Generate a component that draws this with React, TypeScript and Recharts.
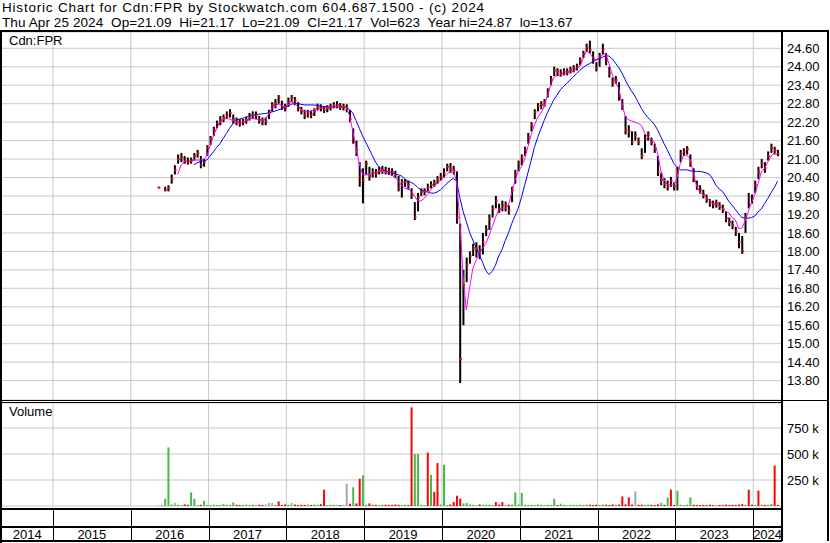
import React from 'react';
import {
  ComposedChart,
  Bar,
  Line,
  Scatter,
  XAxis,
  YAxis,
  CartesianGrid,
  Cell,
} from 'recharts';

// half-month buckets, first one is the first half of May 2016
const START_YEAR = 2016 + 4 / 12;
const X_DOMAIN: [number, number] = [2014.345, 2024.37];

const yearLines = [2015, 2016, 2017, 2018, 2019, 2020, 2021, 2022, 2023, 2024];
const yearLabelAt = [2014.67, 2015.5, 2016.5, 2017.5, 2018.5, 2019.5, 2020.5, 2021.5, 2022.5, 2023.5, 2024.185];
const priceTicks = [13.8, 14.4, 15.0, 15.6, 16.2, 16.8, 17.4, 18.0, 18.6, 19.2, 19.8, 20.4, 21.0, 21.6, 22.2, 22.8, 23.4, 24.0, 24.6];
const volumeTicks = [250000, 500000, 750000];

const closes = [
  20.07, null, 20.0, 20.05, 20.35, 20.65, 21.0, 21.05, 20.95, 20.92,
  20.95, 21.1, 21.2, 20.8, 20.9, 21.35, 21.65, 21.95, 22.16, 22.27,
  22.33, 22.43, 22.5, 22.27, 22.22, 22.17, 22.22, 22.27, 22.38, 22.43,
  22.43, 22.27, 22.22, 22.22, 22.5, 22.76, 22.81, 23.0, 22.7, 22.65,
  22.85, 23.0, 22.9, 22.68, 22.58, 22.43, 22.48, 22.45, 22.55, 22.7,
  22.66, 22.6, 22.65, 22.7, 22.76, 22.76, 22.7, 22.7, 22.65, 22.3,
  21.65, 21.3, 20.4, 20.3, 20.85, 20.45, 20.55, 20.54, 20.62, 20.65,
  20.62, 20.6, 20.57, 20.5, 20.05, 20.24, 20.25, 20.15, 19.85, 19.1,
  19.75, 19.94, 19.95, 20.08, 20.16, 20.22, 20.33, 20.43, 20.54, 20.75,
  20.7, 20.62, 19.1, 14.5, 16.9, 17.55, 17.85, 18.1, 18.1, 18.02,
  18.3, 18.7, 19.05, 19.38, 19.65, 19.37, 19.5, 19.5, 19.33, 19.98,
  20.5, 20.85, 21.05, 21.3, 21.7, 22.1, 22.52, 22.72, 22.76, 22.85,
  23.2, 23.58, 23.88, 23.84, 23.79, 23.84, 23.84, 23.9, 23.95, 24.0,
  24.2, 24.42, 24.62, 24.55, 24.25, 23.95, 24.35, 24.55, 24.2, 23.78,
  23.48, 23.57, 23.05, 22.72, 21.95, 21.9, 21.55, 21.78, 21.55, 21.1,
  21.65, 21.8, 21.55, 21.35, 20.6, 20.32, 20.2, 20.1, 20.3, 20.1,
  20.6, 21.18, 21.24, 21.32, 20.88, 20.4, 20.12, 20.0, 19.85, 19.7,
  19.58, 19.52, 19.55, 19.47, 19.38, 19.08, 18.95, 18.85, 18.65, 18.3,
  18.0, 19.1, 19.75, 19.72, 20.15, 20.6, 20.86, 20.7, 21.1, 21.35,
  21.28, 21.17,
];

const highs = [
  20.1, null, 20.1, 20.15, 20.5, 20.8, 21.15, 21.2, 21.1, 21.05,
  21.05, 21.2, 21.3, 21.1, 21.0, 21.45, 21.75, 22.05, 22.25, 22.4,
  22.45, 22.55, 22.62, 22.45, 22.35, 22.3, 22.3, 22.38, 22.5, 22.55,
  22.55, 22.4, 22.35, 22.35, 22.6, 22.85, 22.95, 23.08, 22.9, 22.8,
  23.0, 23.08, 23.02, 22.85, 22.7, 22.6, 22.6, 22.58, 22.65, 22.8,
  22.78, 22.72, 22.75, 22.8, 22.85, 22.88, 22.82, 22.8, 22.78, 22.6,
  22.0, 21.6, 20.9, 20.7, 20.95, 20.75, 20.7, 20.68, 20.75, 20.78,
  20.75, 20.72, 20.7, 20.62, 20.45, 20.35, 20.35, 20.3, 20.05, 19.6,
  19.9, 20.05, 20.05, 20.2, 20.28, 20.33, 20.45, 20.55, 20.7, 20.85,
  20.87, 20.78, 20.6, 18.9, 17.4, 17.8, 18.0, 18.25, 18.3, 18.2,
  18.6, 18.85, 19.2, 19.5, 19.8, 19.55, 19.65, 19.62, 19.5, 20.1,
  20.65, 20.95, 21.15, 21.4, 21.85, 22.2, 22.62, 22.82, 22.88, 22.95,
  23.3, 23.7, 24.0, 23.95, 23.92, 23.95, 23.95, 24.0, 24.05, 24.1,
  24.3, 24.52, 24.75, 24.85, 24.5, 24.15, 24.45, 24.75, 24.45, 24.0,
  23.65, 23.7, 23.5, 22.95, 22.4, 22.1, 21.9, 21.9, 21.7, 21.35,
  21.8, 21.9, 21.7, 21.5, 21.1, 20.55, 20.38, 20.3, 20.42, 20.25,
  20.75, 21.3, 21.35, 21.42, 21.15, 20.7, 20.3, 20.15, 20.0, 19.85,
  19.7, 19.65, 19.68, 19.6, 19.52, 19.3, 19.1, 19.0, 18.8, 18.6,
  18.5, 19.25, 19.9, 19.85, 20.3, 20.75, 21.0, 20.9, 21.25, 21.5,
  21.4, 21.3,
];

const lows = [
  20.05, null, 19.95, 19.95, 20.2, 20.5, 20.85, 20.9, 20.85, 20.82,
  20.85, 20.95, 21.05, 20.7, 20.75, 21.1, 21.45, 21.75, 22.0, 22.1,
  22.2, 22.3, 22.35, 22.15, 22.1, 22.05, 22.1, 22.15, 22.25, 22.3,
  22.3, 22.15, 22.1, 22.1, 22.3, 22.55, 22.65, 22.8, 22.6, 22.55,
  22.7, 22.85, 22.75, 22.55, 22.45, 22.3, 22.35, 22.33, 22.4, 22.58,
  22.55, 22.5, 22.52, 22.58, 22.65, 22.65, 22.6, 22.58, 22.52, 22.2,
  21.5, 21.1, 20.1, 19.56, 20.5, 20.3, 20.4, 20.4, 20.5, 20.52,
  20.5, 20.48, 20.45, 20.38, 19.95, 19.75, 20.1, 20.0, 19.7, 19.02,
  19.3, 19.8, 19.82, 19.95, 20.05, 20.1, 20.2, 20.3, 20.4, 20.6,
  20.55, 20.5, 18.9, 13.72, 15.6, 17.0, 17.6, 17.85, 17.8, 17.75,
  17.9, 18.5, 18.7, 19.1, 19.4, 19.25, 19.3, 19.3, 19.2, 19.6,
  20.2, 20.6, 20.8, 21.1, 21.5, 21.9, 22.3, 22.55, 22.62, 22.7,
  23.0, 23.4, 23.7, 23.7, 23.68, 23.72, 23.72, 23.78, 23.82, 23.88,
  24.05, 24.28, 24.48, 24.45, 24.1, 23.85, 24.0, 24.4, 24.05, 23.65,
  23.35, 23.45, 22.9, 22.6, 21.8, 21.7, 21.45, 21.6, 21.45, 21.0,
  21.2, 21.6, 21.45, 21.2, 20.45, 20.15, 20.05, 19.98, 20.1, 19.98,
  19.98, 20.9, 21.1, 21.15, 20.75, 20.25, 20.0, 19.88, 19.72, 19.58,
  19.45, 19.4, 19.42, 19.35, 19.25, 18.95, 18.82, 18.72, 18.5, 18.1,
  17.92, 18.6, 19.4, 19.55, 19.9, 20.35, 20.7, 20.55, 20.95, 21.2,
  21.15, 21.09,
];

// magenta (short) moving average
const fastMA = [
  null, null, null, null, null, null, 20.5, 20.8, 20.92, 20.92,
  20.95, 20.97, 20.97, 20.97, 21.0, 21.1, 21.45, 21.75, 22.0, 22.2,
  22.28, 22.32, 22.3, 22.25, 22.2, 22.16, 22.2, 22.22, 22.3, 22.32,
  22.3, 22.27, 22.27, 22.3, 22.45, 22.65, 22.72, 22.78, 22.75, 22.7,
  22.75, 22.87, 22.82, 22.7, 22.6, 22.54, 22.54, 22.55, 22.6, 22.65,
  22.65, 22.66, 22.68, 22.7, 22.7, 22.7, 22.7, 22.7, 22.68, 22.4,
  21.9, 21.35, 20.85, 20.5, 20.48, 20.5, 20.54, 20.56, 20.6, 20.6,
  20.58, 20.52, 20.48, 20.4, 20.3, 20.15, 20.05, 20.05, 19.95, 19.8,
  19.65, 19.64, 19.72, 19.85, 20.0, 20.12, 20.2, 20.3, 20.4, 20.5,
  20.6, 20.65, 20.25, 19.0, 17.2, 16.1, 16.8, 17.45, 17.7, 17.94,
  18.1, 18.25, 18.5, 18.8, 19.1, 19.35, 19.4, 19.4, 19.5, 19.9,
  20.3, 20.6, 20.75, 21.0, 21.4, 21.8, 22.1, 22.35, 22.5, 22.7,
  23.05, 23.4, 23.66, 23.72, 23.74, 23.78, 23.79, 23.82, 23.85, 23.95,
  24.0, 24.25, 24.5, 24.45, 24.3, 24.22, 24.3, 24.38, 24.44, 24.1,
  23.75, 23.5, 23.3, 22.8, 22.4, 22.28, 22.24, 22.2, 22.16, 22.1,
  21.85, 21.7, 21.65, 21.55, 21.2, 20.62, 20.32, 20.18, 20.16, 20.16,
  20.4, 20.85, 21.12, 21.13, 21.0, 20.55, 20.15, 19.92, 19.85, 19.75,
  19.65, 19.57, 19.53, 19.5, 19.4, 19.3, 19.25, 19.1, 19.02, 18.75,
  18.75, 19.0, 19.3, 19.6, 19.85, 20.2, 20.58, 20.7, 20.9, 21.1,
  21.19, 21.14,
];

// blue (long) moving average
const slowMA = [
  null, null, null, null, null, null, null, null, null, null,
  null, 20.82, 20.88, 20.92, 20.95, 20.97, 21.1, 21.24, 21.38, 21.5,
  21.67, 21.83, 22.0, 22.15, 22.26, 22.3, 22.32, 22.36, 22.4, 22.43,
  22.45, 22.46, 22.47, 22.48, 22.5, 22.53, 22.56, 22.6, 22.63, 22.68,
  22.72, 22.78, 22.81, 22.8, 22.78, 22.76, 22.76, 22.76, 22.76, 22.74,
  22.72, 22.71, 22.7, 22.7, 22.7, 22.7, 22.7, 22.7, 22.68, 22.6,
  22.5, 22.25, 22.0, 21.75, 21.55, 21.33, 21.12, 20.9, 20.75, 20.66,
  20.62, 20.57, 20.55, 20.52, 20.49, 20.45, 20.36, 20.28, 20.24, 20.18,
  20.08, 20.0, 19.96, 19.93, 19.9, 19.89, 19.93, 20.0, 20.1, 20.21,
  20.3, 20.38, 20.28, 19.75, 19.3, 18.97, 18.62, 18.37, 18.12, 17.88,
  17.65, 17.38, 17.25, 17.35, 17.55, 17.85, 18.05, 18.35, 18.6, 18.9,
  19.15, 19.4, 19.75, 20.15, 20.55, 20.95, 21.38, 21.7, 21.98, 22.25,
  22.5, 22.72, 22.93, 23.08, 23.25, 23.36, 23.46, 23.57, 23.67, 23.78,
  23.88, 23.97, 24.05, 24.1, 24.16, 24.22, 24.26, 24.31, 24.36, 24.35,
  24.26, 24.12, 23.98, 23.8, 23.58, 23.38, 23.2, 23.05, 22.85, 22.65,
  22.48, 22.35, 22.25, 22.13, 21.95, 21.72, 21.5, 21.3, 21.08, 20.86,
  20.75, 20.65, 20.65, 20.65, 20.62, 20.6, 20.6, 20.6, 20.58, 20.55,
  20.5, 20.35, 20.15, 20.03, 19.95, 19.8, 19.62, 19.5, 19.36, 19.22,
  19.1, 19.08, 19.08, 19.1, 19.15, 19.28, 19.38, 19.55, 19.72, 19.9,
  20.07, 20.28,
];

// everyday volume per bucket, thousands of shares
const baseVolumeK = [
  5, 12, 10, 8, 14, 10, 12, 9,
  16, 12, 10, 14, 9, 12, 15, 11,
  10, 13, 9, 11, 18, 12, 10, 14,
  12, 9, 11, 14, 10, 13, 9, 12,
  11, 14, 16, 12, 10, 13, 11, 15,
  12, 10, 14, 9, 12, 11, 13, 10,
  14, 12, 18, 10, 9, 13, 11, 12,
  10, 12, 15, 22, 18, 25, 14, 16,
  12, 10, 14, 11, 9, 12, 13, 10,
  11, 14, 12, 10, 13, 9, 15, 20,
  14, 12, 10, 16, 12, 11, 18, 14,
  12, 10, 14, 16, 22, 30, 25, 18,
  14, 12, 10, 15, 12, 11, 13, 10,
  12, 14, 10, 11, 13, 15, 12, 14,
  16, 12, 10, 13, 11, 14, 12, 10,
  13, 11, 12, 10, 14, 12, 9, 11,
  12, 10, 13, 11, 14, 12, 10, 13,
  11, 14, 12, 10, 15, 12, 14, 18,
  16, 12, 14, 10, 12, 13, 11, 14,
  12, 10, 16, 14, 12, 11, 13, 10,
  14, 12, 10, 13, 11, 12, 10, 9,
  11, 10, 12, 9, 10, 11, 9, 12,
  10, 12, 11, 14, 18, 12, 10, 13,
  11, 12, 14, 10, 12, 16, 13, 11,
];

// heavy days: [bucket, thousands, tone]
const volumeSpikes: Array<[number, number, string]> = [
  [2, 70, 'g'], [3, 563, 'g'], [5, 30, 'n'], [10, 130, 'g'], [11, 70, 'g'], [14, 50, 'g'],
  [23, 35, 'g'], [34, 30, 'n'], [35, 30, 'n'], [37, 45, 'r'], [41, 30, 'n'], [51, 157, 'r'],
  [58, 215, 'n'], [60, 180, 'g'], [62, 262, 'r'], [63, 294, 'g'], [65, 25, 'r'],
  [78, 948, 'r'], [79, 500, 'g'], [80, 500, 'g'], [83, 513, 'r'], [84, 300, 'g'],
  [85, 135, 'r'], [86, 413, 'r'], [88, 397, 'g'], [91, 38, 'r'], [92, 99, 'r'], [93, 70, 'r'],
  [95, 29, 'g'], [104, 38, 'r'], [106, 38, 'r'], [110, 131, 'g'], [112, 125, 'g'],
  [122, 70, 'g'], [124, 22, 'g'], [143, 92, 'r'], [145, 83, 'r'], [147, 140, 'n'],
  [155, 30, 'g'], [157, 83, 'g'], [158, 157, 'r'], [160, 147, 'g'], [164, 83, 'g'],
  [182, 157, 'r'], [185, 147, 'r'], [189, 19, 'g'], [190, 388, 'r'],
];

const TONES: Record<string, string> = { g: '#44bb44', r: '#ff0000', n: '#a8a8a8' };
const GRID = '#c8c8c8';
const FONT = '"Liberation Sans", Arial, sans-serif';

const bucketX = (i: number) => START_YEAR + (i + 0.5) / 24;

const priceData = closes.map((c, i) => ({
  x: bucketX(i),
  range: highs[i] == null ? null : [lows[i], highs[i]],
  close: c,
  fast: fastMA[i],
  slow: slowMA[i],
}));

const closeData = priceData.filter((d) => d.close != null);

const volumeData = baseVolumeK.map((v, i) => {
  const spike = volumeSpikes.find((s) => s[0] === i);
  let tone = 'n';
  const c = closes[i];
  const p = closes[i - 1];
  if (c != null && p != null) tone = c > p ? 'g' : c < p ? 'r' : 'n';
  return {
    x: bucketX(i),
    vol: (spike ? spike[1] : v) * 1000,
    tone: spike ? spike[2] : tone,
  };
});

const CloseMark = (props: any) => {
  const { cx, cy } = props;
  if (cx == null || cy == null || isNaN(cy)) return null;
  return <rect x={cx} y={cy - 1} width={2} height={2} fill="#ff0000" />;
};

const YearTick = (props: any) => {
  const { x, y, payload } = props;
  const v = payload.value as number;
  if (Number.isInteger(v)) {
    const xx = Math.round(x) + 0.5;
    return <line x1={xx} x2={xx} y1={y + 3} y2={y + 35} stroke="#000" />;
  }
  return (
    <text x={x} y={y + 32.5} textAnchor="middle" fontSize={13} fill="#000" fontFamily={FONT}>
      {Math.floor(v)}
    </text>
  );
};

const box = (left: number, top: number, width: number, height: number): React.CSSProperties => ({
  position: 'absolute',
  left,
  top,
  width,
  height,
  background: '#000',
});

const titleStyle: React.CSSProperties = {
  position: 'absolute',
  left: 2,
  fontSize: 13.5,
  lineHeight: '15px',
  whiteSpace: 'pre',
  color: '#000',
};

export default function App() {
  const axisTick = { fontSize: 13, fill: '#000', fontFamily: FONT };
  return (
    <div
      style={{
        position: 'absolute',
        left: 0,
        top: 0,
        width: 830,
        height: 543,
        background: '#fff',
        fontFamily: FONT,
        overflow: 'hidden',
      }}
    >
      <div style={{ ...titleStyle, top: 0, letterSpacing: 0.8 }}>
        {'Historic Chart for Cdn:FPR by Stockwatch.com 604.687.1500 - (c) 2024'}
      </div>
      <div style={{ ...titleStyle, top: 15, letterSpacing: 0.1 }}>
        {'Thu Apr 25 2024  Op=21.09  Hi=21.17  Lo=21.09  Cl=21.17  Vol=623  Year hi=24.87  lo=13.67'}
      </div>

      <div style={{ position: 'absolute', left: 0, top: 0 }}>
        <ComposedChart width={830} height={402} data={priceData} margin={{ top: 32, right: 0, bottom: 2, left: 2 }}>
          <CartesianGrid stroke={GRID} verticalValues={yearLines} />
          <XAxis dataKey="x" type="number" domain={X_DOMAIN} allowDataOverflow ticks={yearLines} hide />
          <YAxis
            orientation="right"
            width={48}
            domain={[13.17, 25.13]}
            allowDataOverflow
            ticks={priceTicks}
            interval={0}
            tickFormatter={(v: number) => v.toFixed(2)}
            tick={axisTick}
            tickLine={false}
            axisLine={false}
            tickSize={0}
            tickMargin={5}
          />
          <Bar dataKey="range" barSize={2} fill="#000" isAnimationActive={false} />
          <Line dataKey="slow" stroke="#0000ff" strokeWidth={1} dot={false} isAnimationActive={false} />
          <Line dataKey="fast" stroke="#ff00ff" strokeWidth={1} dot={false} isAnimationActive={false} />
          <Scatter data={closeData} dataKey="close" shape={<CloseMark />} isAnimationActive={false} />
        </ComposedChart>
      </div>

      <div style={{ position: 'absolute', left: 0, top: 400 }}>
        <ComposedChart width={830} height={143} data={volumeData} margin={{ top: 3, right: 0, bottom: 0, left: 2 }}>
          <CartesianGrid stroke={GRID} verticalValues={yearLines} />
          <XAxis
            dataKey="x"
            type="number"
            domain={X_DOMAIN}
            allowDataOverflow
            ticks={[...yearLabelAt, ...yearLines].sort((a, b) => a - b)}
            interval={0}
            height={37}
            tick={<YearTick />}
            tickLine={false}
            axisLine={false}
            tickSize={0}
            tickMargin={0}
          />
          <YAxis
            orientation="right"
            width={48}
            domain={[0, 990000]}
            allowDataOverflow
            ticks={volumeTicks}
            interval={0}
            tickFormatter={(v: number) => `${v / 1000} k`}
            tick={axisTick}
            tickLine={false}
            axisLine={false}
            tickSize={0}
            tickMargin={5}
          />
          <Bar dataKey="vol" barSize={2} isAnimationActive={false}>
            {volumeData.map((d, i) => (
              <Cell key={`v-${i}`} fill={TONES[d.tone]} />
            ))}
          </Bar>
        </ComposedChart>
      </div>

      <div style={{ position: 'absolute', left: 9, top: 34, fontSize: 13, lineHeight: '14px', color: '#000' }}>Cdn:FPR</div>
      <div style={{ position: 'absolute', left: 9, top: 405, fontSize: 13, lineHeight: '14px', color: '#000' }}>Volume</div>

      {/* frame lines */}
      <div style={box(0, 30, 829, 2)} />
      <div style={box(0, 30, 2, 513)} />
      <div style={box(781, 30, 2, 511)} />
      <div style={box(827, 30, 2, 511)} />
      <div style={box(0, 400, 829, 1)} />
      <div style={box(0, 402, 782, 1)} />
      <div style={box(0, 508, 782, 2)} />
      <div style={box(0, 526, 782, 2)} />
      <div style={box(0, 540, 782, 2)} />
    </div>
  );
}
